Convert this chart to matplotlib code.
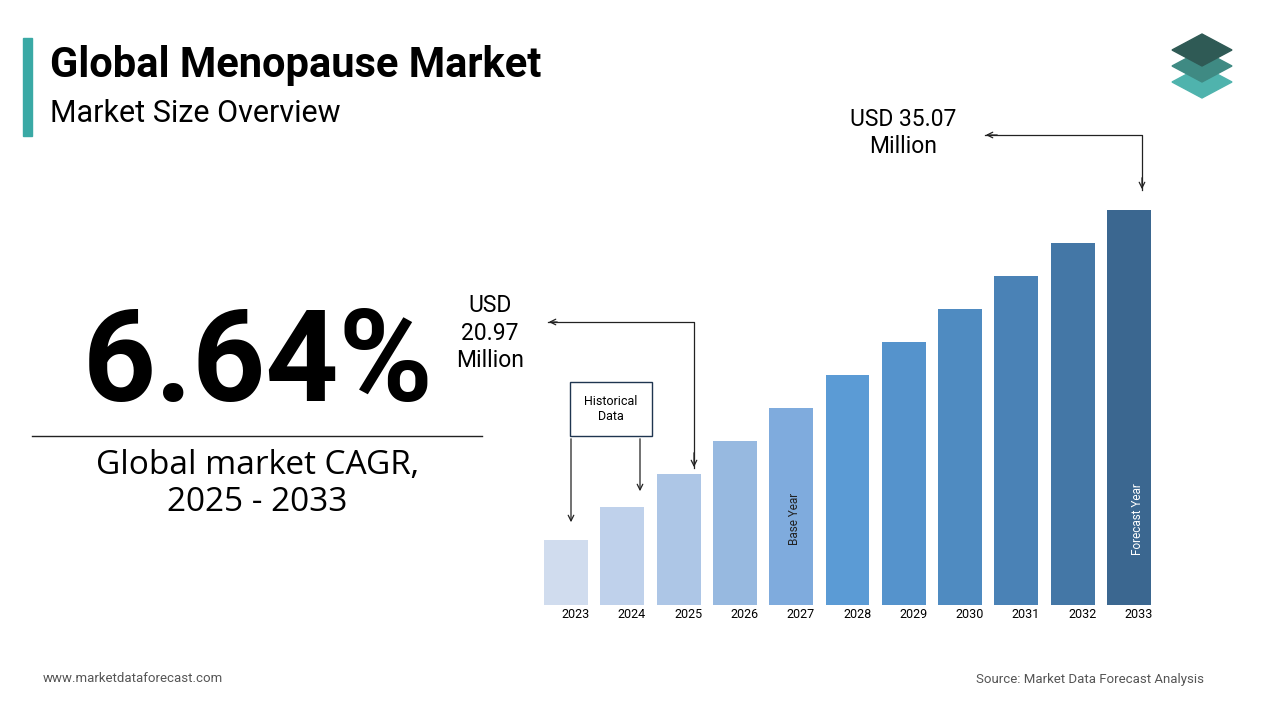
import matplotlib
matplotlib.use("Agg")
import matplotlib.pyplot as plt
from matplotlib.patches import Polygon, Rectangle

years = ["2023","2024","2025","2026","2027","2028","2029","2030","2031","2032","2033"]
values = [65, 98, 131, 164, 197, 230, 263, 296, 329, 362, 395]
colors = ["#d0dcee","#bfd1eb","#adc6e6","#97b9e0","#7fabdd","#5b9bd5","#5593cc","#4f8bc1","#4a82b6","#4477a6","#3b6790"]

fig = plt.figure(figsize=(12.8, 7.2), dpi=100)
ov = fig.add_axes([0, 0, 1, 1])
ov.set_xlim(0, 1280); ov.set_ylim(720, 0); ov.axis("off")

ax = fig.add_axes([530/1280, 115/720, 635/1280, 400/720])
x = list(range(len(years)))
ax.bar(x, values, width=0.78, color=colors)
ax.set_xlim(-0.64, 10.64); ax.set_ylim(0, 400)
ax.set_xticks([i + 0.17 for i in x]); ax.set_xticklabels(years, fontsize=9, family="Roboto")
ax.tick_params(length=0, pad=2)
ax.set_yticks([])
for s in ax.spines.values(): s.set_visible(False)
ax.patch.set_alpha(0)
ax.text(4.05, 60, "Base Year", rotation=90, fontsize=8.5, ha="center", va="bottom", family="Roboto", color="#222")
ax.text(10.15, 50, "Forecast Year", rotation=90, fontsize=8.5, ha="center", va="bottom", family="Roboto", color="white")

# titles
ov.add_patch(Rectangle((23, 38), 9, 98, color="#3aa9a5"))
ov.text(50, 66, "Global Menopause Market", fontsize=30, fontweight="bold", family="Roboto", va="center")
ov.text(50, 113, "Market Size Overview", fontsize=22, family="Roboto", va="center")
ov.text(258, 366, "6.64%", fontsize=92, fontweight="bold", family="Roboto", ha="center", va="center")
ov.plot([32, 482], [436, 436], color="#222", lw=1)
ov.text(257, 484, "Global market CAGR,\n2025 - 2033", fontsize=24, family="Open Sans", ha="center", va="center", linespacing=1.15)

# annotations
ov.text(490, 333, "USD\n20.97\nMillion", fontsize=16.5, family="Roboto", ha="center", va="center", linespacing=1.25)
ov.plot([694, 694, 548], [468, 322, 322], color="#222", lw=0.9)
ov.annotate("", xy=(546, 322), xytext=(560, 322), arrowprops=dict(arrowstyle="->", color="#222", lw=0.9))
ov.annotate("", xy=(694, 470), xytext=(694, 450), arrowprops=dict(arrowstyle="->", color="#222", lw=0.9))
ov.text(903, 133, "USD 35.07\nMillion", fontsize=16.5, family="Roboto", ha="center", va="center", linespacing=1.25)
ov.plot([1142, 1142, 985], [190, 135, 135], color="#222", lw=0.9)
ov.annotate("", xy=(983, 135), xytext=(1000, 135), arrowprops=dict(arrowstyle="->", color="#222", lw=0.9))
ov.annotate("", xy=(1142, 192), xytext=(1142, 175), arrowprops=dict(arrowstyle="->", color="#222", lw=0.9))

ov.add_patch(Rectangle((570, 382), 82, 54, fill=False, ec="#1f3550", lw=1))
ov.text(611, 409, "Historical\nData", fontsize=9, family="Roboto", ha="center", va="center")
ov.annotate("", xy=(571, 525), xytext=(571, 436), arrowprops=dict(arrowstyle="->", color="#222", lw=0.9))
ov.annotate("", xy=(640, 494), xytext=(640, 436), arrowprops=dict(arrowstyle="->", color="#222", lw=0.9))

# logo
for cy, col in [(82, "#4fb3ad"), (66, "#3f8a83"), (50, "#2f5a55")]:
    ov.add_patch(Polygon([(1172, cy), (1202, cy-16), (1232, cy), (1202, cy+16)], closed=True, color=col))

ov.text(43, 679, "www.marketdataforecast.com", fontsize=9.5, family="Roboto", color="#555", va="center")
ov.text(1204, 679, "Source: Market Data Forecast Analysis", fontsize=9.5, family="Roboto", color="#555", va="center", ha="right")

fig.savefig("out.png", dpi=100)
